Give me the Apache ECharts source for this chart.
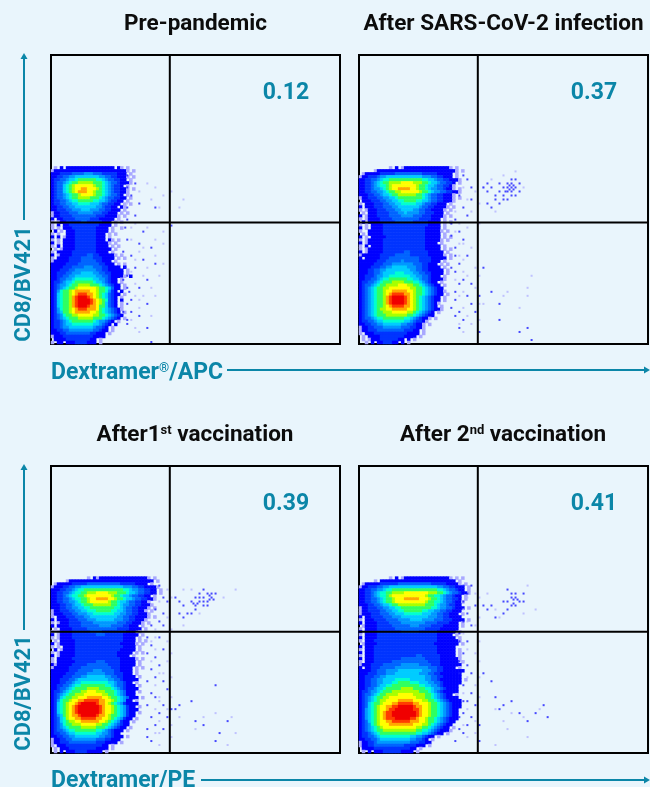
<!DOCTYPE html>
<html><head><meta charset="utf-8">
<style>html,body{margin:0;padding:0;background:#e9f5fc}#c{width:650px;height:787px}</style>
<script src="https://cdn.jsdelivr.net/npm/echarts@6/dist/echarts.min.js"></script>
</head><body><div id="c"></div>
<script>
// Density levels per 3px cell, read by eye: '.' empty, 1 pale fringe, 2 blue ... d red. Rows 37..95, top to bottom.
const densityPrePandemic = [
".1.2.2222222222222222.21.1",
"12222222222222222222222221.1",
"2223333444455544433333222.1",
"22334455666666665544332221.1",
"2334456678888887765443322.1",
"234456788999998887654432221",
"23446789aaaaaa9887654332.1",
"23446789aabbaaa98765433221.1",
"23446789abbbaa988765433221",
"23445678 9aaaa9887654432.1",
"2344567889999888765443322.1",
"233445677888887766543322.1",
"23344556677776665443322.1.1",
"2233445566666665543322.21",
"22333445556665554433222.1",
"1223334445555544433222.1.1",
"12233334444444433322221.1",
"2.2233334444433322222.1",
"1.122333334433333222.1.1",
"1.2.2233333333332222.1",
"1.1.222333333332222.1..1",
".2.1.22233333332222.1",
"1.1..2223333333222.1.1",
"2.2.12223333333222.1",
"1.1.22223333333222.21.1",
"2.1.2222333333322221.1",
"1.2.222233333332222.1.1",
".1.12222333333322222.1",
"1.22222333333332222.1",
"2.12222333334433222221.1",
"1.2222333344443332222.1.1",
"12222233334444433222.1",
"222223333444444433222.1.1",
"22223334444555444332222.2",
"222333445555555443322222.1",
"223334455566665544332222.1",
"2233445566666665544322221.2",
"2234455677777766554322.1",
"2334566788888876654322.1",
"23455678899998887654322.1",
"2345678 9aaaaaa98876422.1",
"2357889abbbbbaa9887532.2",
"23678 9abcccbba98764322.1",
"2367889bcdddcba9876432.1",
"2367889bcddddcba987432.2",
"2367889bcddddcba986432.1",
"2367889bcdddcbba886432.1",
"23578 9abcccbbba87654321",
"2356889abbbbbaa98765432.1",
"234578899aaaaa9988765432.",
"23456788899999888765432.1",
"233456788888887655432.1",
"23345667777777665432.2",
"2334556666666654432.1",
"2233445555555544322.1",
"222334444444433222.1",
"122233333333332222",
".22223333333322.1",
"1.22.2223333222.1"].map(s=>s.replace(/ /g,'8'));
const densityAfterInfection = [
"..........1.2.12222222222222221.1",
".....1222222222222222222222222221.1",
".122222333334444444443333322222.1",
"1223334556666666666665554433222.1",
"2233445677888888888887766544332221",
"22334567889999aaaa99988766544332.1",
"22334567789aaaaaaaa9887665443321",
"22334556789aabbbbaa9887655443221.1",
"22334455678899aaaaaa98876554433221",
"22233445667889999998876544332221",
"12233344556678888888876544332221.1",
".2223334455667788887766544332221",
"1.222333445566777776654433222.1",
"2.2223334445566666665443322221.1",
"1.122233344455666655443322221.1",
".1.2223333444556555544333222.1",
"2.122233334444555544433322221.1",
"1.1222233334444444443333222.1",
".2.222233333444444333332222.1.1",
"1.1.22223333333333333332222.1",
"2.1.22223333333333333322222.1",
"1..2222233333333333333222221.1",
".1.222223333333333333322222.1",
"2.1.22222333333333333322222.1.1",
"1.12222233333333333333222221.1",
"2.122222333333333333332222.1",
"1.2.22223333333333333322222.1",
"1.1222223333333333333322222.1.1",
"2.12222233333334433333322222.1",
"12222223333344444333333222221.1",
"2.222223334444444444333322222.1",
"222222333444445444443333222.1",
"22222333444555555544433222.1.1",
"222233344556666655544332222.1",
"2223344556666666655443322222.1",
"2223344566667776665544332222.1",
"223334556677777776655443222.1",
"22334456778888887766544322221",
"23344567888999988877654322.1",
"2344567889999aaa99887654322.1",
"2345678899aaaaaaa99887654322",
"234567889aabbbbbaa98876543221",
"234567889abccccbba9887654322.1",
"234567889bcddddcba987654322.1",
"234567889bcddddcba987654322.1",
"234567889bcddddcba987654321",
"234567889abccccbba98765432.1",
"234567899aabbbbbaa9876543221",
"23456788999aaaaa998765432.1",
"2345678889999999887654322",
"234456778888888776543221.1",
"23344566777777766543321",
"2233445566666655443221.1",
"1223344455555544433221",
"12233344444444433322.1",
"1.222333333333332222.1",
".1.2222333333332222.1",
".1.122233333322.2.1",
"..1.2.2233322.2.1"];
const densityAfterFirstDose = [
"............1.2122222222222222221.1",
".....12222222222222222222222222222.1",
".1222223333344444444444333332222.1",
"122233445566666666666666555443322221",
"22233445677888888888888877655443322.1",
"223344567788999aaaa9998887665443322.1",
"223345677889aaaaaaaa9887665443322.1",
"2233445677889aabbbbaa98876654433221",
"2233445567889aaaaaa98876654433221",
"2223344566788899999988765544332221",
"222334455667788888888776544332221.1",
"12233344556677788888776654433221.1",
"122233344555667777777665544332221",
"1.2223334445566666666655443322221.1",
"2.222233344455566666655544332221",
"1.12223333444455555555444332221.1",
"2.222233334444445555444433222.1",
".1.222233333444444444433332222.1",
"1.12222333333444433333333222.1",
"2.122223333333344433333322222.1",
"1.12222333333333333333332222.1",
".1.2222233333333333333332222.1.1",
"2.122222333333333333333222221.1",
"1.1.222233333333333333332222.1",
".2.1222233333333333333322222.1",
"1.1222223333333333333322222.1.1",
"2.122222333333333333332222.1",
"1.222223333333333333333222221.1",
"1.22222233333334443333322222.1",
"2122222333334444444333322222.1",
"122222333344444444443332222.1.1",
"222222333444445554444332222.1",
"222223334444555555444333222.1",
"2222333444556666665544332222.1",
"22233344566666666665544322222",
"222334456677777777766544322.1",
"2233445677888888887765443222.1",
"22344567888899998888765432222",
"233456788899aaa9998887654222.1",
"23456788999aaaaaa99887654222",
"234678899aaabbbbbaa988765 4222.1".replace(" ",""),
"2357889aabbcccccbbaa987652 2.1".replace(" ",""),
"236789aabcdddddcbba98765322 22".replace(" ",""),
"236789abcdddddddcbaa98765322.1",
"236789abcdddddddcbaa987653222",
"236789abcdddddddcbaa98765322.1",
"235689abbcdddddcbba988765322",
"234679aabbcccccbbaa98765322.1",
"23467899aabbbbbbaa98765322.1",
"2345788999aaaaa99887654322",
"2345678888999998887654322.1",
"234456778888888776543222.1",
"23344566777777766554322",
"223344556666666655443222.1",
"12233445555555544433222",
"1223334444444443332222.1",
"1.22233333333333322.1",
".1.2223333333332222.1",
".1.2.222333322222.1"];
const densityAfterSecondDose = [
"..........1.2.12222222222222221.1.1",
".....1.2222222222222222222222222.1",
".122222333333444444444443333322221.1",
"12233344556666666666666666554433222.1",
"22334455677888888888888888776544322.1",
"223345677889999aaaaaaaa99988765443221",
"22334567789aaaaaaaaaaa988776544322.1",
"223344567889aaabbbbbaaa98876544332.1",
"223344567889aaaaaaaaaa9887765443221",
"2223344566788999999999888765543322",
"12233344556677888888888877655443222.1",
"1223333445566778888887766554433222",
"122233344455666777777666554433222.1",
"2.22333344455566666666655544332222",
"1.222333344445555666655554443332222.1",
"2.2222333344445555555544443333222.1",
".12222333334444445554444333322222.1",
"1.2222333333444444444433333222222",
"2.222233333333444444333333222222.1",
"1.22223333333333333333333322222.1",
"2.222233333333333333333333222222.1",
"1.22233333333333333333333322222221",
".12222333333333333333333322222222.1",
"2.222333333333333333333333222222",
"1.222333333333333333333333222222.1",
"2.222333333333333333333333222222.1",
"1.222333333333333334433333322222.1",
"2.22233333333344444444333332222221",
"1.2223333334444444444443333222222.1",
"1222333344444455555544443332222222",
"2.223334444455555555555444332222.1",
"22223344455556666666655544332222222",
"2223334445556666666655544332222222",
"2233344556666666666666554433222222",
"2233445566667777766666554432222222.1",
"2233445566677888877766655443222222",
"223344566778888888887766554322222",
"223445667888889999888877655432222",
"233455678889999999998887654322222",
"2344567889999aaaaa9999887654322.1",
"2345678899aaaaaaaaa99988765432222",
"234567899aaaabbbbbaaa9988765432222",
"23467889aaabbcccccbbaaa98876543222",
"2346789aabbccdddddcbbaa98876543222",
"2356789aabccddddddccbaa9887654322",
"2356789abccddddddddcbaa9887654322",
"2356789abccddddddddcbaa9887654322",
"2356789abcccdddddccbaa98876543222",
"2346789aabbccccccbbbaa9887654322",
"2345789aaabbbbbbbbaaa9987654322",
"23456789aaaaaaaaaaa99887654322.1",
"2345678899999999999887765432221",
"2334567888888888888776654322.1",
"2334456777777777766554322.1",
"22334456666666666554432.1",
"122334555555555554443322",
"1223344444444443333222.1",
".222233333333333322.1",
".1.2.2223333332222.1"];

// Isolated events as [x, y] on a 0–72 plot scale.
const strayPrePandemic = [[19,30],[21,32],[19,33],[20,35],[22,37],[19,38],[26,38],[21,40],[19,41],[23,44],[19,46],[22,47],[25,48],[20,50],[23,51],[21,53],[26,52],[19,55],[24,56],[19,58],[22,58],[20,61],[24,62],[20,64],[22,65],[19,67],[24,68],[25,71.5],[30,42.5],[18.5,43],[18,49],[18.5,53],[18,56],[19.5,59],[19,62],[18,64],[19,66]];
const palePrePandemic = [[24,32],[26,33],[28,35],[25,36],[30,34],[21,42],[24,43],[28,44],[26,46],[23,48],[28,47],[22,49],[26,50],[28,52],[24,53],[23,55],[27,55],[25,58],[21,60],[23,60],[26,60],[22,63],[25,65],[21,68],[22,69],[33,36],[32,38],[27,38],[20,31],[22,34],[19,37],[20,43],[20,46],[21,51],[20,54],[21,57],[22,61],[20,66]];
const strayAfterInfection = [[26,30],[27,31],[28,33],[25,35],[28,36],[26,38],[27,40],[24,41],[25,44],[26,46],[24,48],[27,50],[25,52],[24,54],[26,56],[28,57],[27,60],[24,61],[28,62],[25,64],[26,66],[29,64],[30,69],[31,53],[32,37],[34,35],[35,34],[36,33],[37,32],[38,33],[39,33],[37,34],[38,35],[40,32],[39,31],[38,32],[37,33],[36,35],[34,36],[32,34],[33,33],[35,32],[38,34],[36,36],[39,35],[33,38],[35,37],[38,31],[40,34],[37,36],[31,33],[32,32],[33,59],[35,62],[30,60],[35,66],[42,68],[43,71],[40,69],[38.5,32.5],[37.5,32.5],[38.5,33.5],[37.5,33.5],[36.5,34],[23,42],[23,45],[24,50],[23,53],[25,57],[24,59],[23,63],[24,65],[25,68]];
const paleAfterInfection = [[29,34],[30,37],[28,39],[25,42],[27,43],[30,42],[26,47],[28,48],[26,51],[29,53],[30,55],[27,55],[29,58],[26,59],[30,62],[25,67],[28,67],[30,66],[26,69],[31,33],[33,31],[36,30],[39,29],[41,33],[34,39],[31,62],[36,60],[42,58],[42,60],[40,63],[37,59],[43,55],[26,33],[27,36],[24,39],[24,44],[25,47],[25,50],[26,54],[24,56],[25,60],[26,63],[27,65]];
const strayAfterFirstDose = [[27,30],[26,32],[28,33],[29,34],[26,36],[28,37],[27,39],[25,40],[28,40],[27,43],[25,45],[28,46],[26,48],[27,50],[26,53],[28,54],[29,56],[26,58],[28,60],[30,61],[27,62],[29,63],[26,65],[28,66],[25,69],[31,33],[32,34],[33,35],[35,34],[36,33],[37,34],[38,33],[39,32],[40,33],[39,34],[38,35],[36,36],[34,37],[33,38],[37,32],[38,31],[40,32],[39,35],[36,35],[35,37],[32,37],[41,32],[38,34],[37,33],[32,60],[31,61],[35,59],[36,64],[38,65],[41,55],[42,67],[41,69],[44,64],[39.5,33.5],[40.5,33.5],[39.5,32.5],[36.5,34.5],[35.5,34.5],[24,43],[24,47],[25,51],[24,54],[25,57],[24,60],[25,63],[24,66],[24,68]];
const paleAfterFirstDose = [[29,31],[30,33],[29,38],[30,41],[26,43],[29,44],[30,47],[29,49],[28,52],[30,53],[30,58],[27,59],[29,61],[30,65],[27,67],[30,68],[27,70],[33,31],[35,31],[43,33],[46,31],[33,40],[37,37],[36,66],[38,63],[41,62],[45,63],[46,67],[44,70],[32,63],[27,34],[26,38],[26,41],[25,44],[26,46],[25,49],[27,52],[26,55],[27,58],[26,61],[27,64],[26,67]];
const strayAfterSecondDose = [[26,30],[28,30],[27,32],[26,34],[29,35],[27,37],[26,39],[28,40],[25,42],[27,44],[26,47],[25,49],[27,50],[28,52],[26,55],[28,57],[27,59],[29,60],[26,62],[28,63],[27,65],[30,65],[26,67],[30,69],[31,35],[32,36],[33,35],[36,34],[37,34],[38,33],[39,33],[40,34],[38,35],[39,35],[37,36],[36,37],[34,38],[39,32],[41,34],[38,32],[37,31],[41,32],[31,52],[33,54],[34,58],[35,61],[36,60],[38,59],[40,62],[42,64],[44,62],[46,60],[47,63],[38.5,33.5],[39.5,33.5],[38.5,34.5],[25,44],[25,52],[26,59],[25,63],[25,66],[24,69]];
const paleAfterSecondDose = [[29,32],[30,33],[30,38],[29,40],[30,44],[29,47],[30,49],[30,53],[29,55],[30,58],[29,64],[29,67],[32,32],[34,36],[35,38],[41,37],[42,30],[44,36],[34,61],[38,62],[37,66],[41,63],[36,64],[45,61],[42,68],[34,70],[27,33],[26,36],[27,39],[26,42],[27,46],[26,49],[27,53],[26,57],[27,61],[26,65],[27,68]];

const panelNames = ["Pre-pandemic","After SARS-CoV-2 infection","After1{s|st} vaccination","After 2{s|nd} vaccination"];
const percentages = ["0.12","0.37","0.39","0.41"];
const axisLabels = ["CD8/BV421","Dextramer{s|®}/APC","Dextramer/PE"];
const dividerX = [29.6,29.6,29.6,29.6];
const dividerY = [41.75,41.75,41.6,41.6];

const densities=[densityPrePandemic,densityAfterInfection,densityAfterFirstDose,densityAfterSecondDose];
const strays=[strayPrePandemic,strayAfterInfection,strayAfterFirstDose,strayAfterSecondDose];
const pales=[palePrePandemic,paleAfterInfection,paleAfterFirstDose,paleAfterSecondDose];
const firstRow=37, gridCells=96, scale=72;
const levels=".123456789abcd";
const levelColors=['#a8a8ff','#0000ff','#0034ff','#0064ff','#0098ff','#00ccff','#00ffd0','#30ff60','#a8ff00','#ffff00','#ffa800','#ff3c00','#f00000'];
const teal='#0b86a8';
const boxes=[[51,55,289,289],[359,55,289,289],[51,466,289,287],[359,466,289,287]];
const cats=Array.from({length:gridCells},(_,i)=>String(i));
const grid=[],xAxis=[],yAxis=[],series=[],title=[];
const font='Roboto';
const sup=c=>({s:{fontFamily:font,fontWeight:'bold',fontSize:13,color:c,verticalAlign:'top',lineHeight:16}});
boxes.forEach((b,p)=>{
  grid.push({left:b[0],top:b[1],width:b[2],height:b[3],show:true,borderColor:'#000',borderWidth:2,backgroundColor:'transparent'});
  xAxis.push({type:'category',data:cats,gridIndex:p,show:false});
  yAxis.push({type:'category',data:cats,gridIndex:p,show:false,inverse:true});
  xAxis.push({type:'value',min:0,max:scale,gridIndex:p,show:false});
  yAxis.push({type:'value',min:0,max:scale,gridIndex:p,show:false,inverse:true});
  const cells=[];
  densities[p].forEach((row,r)=>{[...row].forEach((ch,c)=>{const v=levels.indexOf(ch);if(v>0)cells.push([c,r+firstRow,v]);});});
  series.push({type:'heatmap',xAxisIndex:2*p,yAxisIndex:2*p,data:cells,itemStyle:{borderWidth:0},progressive:0,z:1});
});
boxes.forEach((b,p)=>{
  series.push({type:'scatter',xAxisIndex:2*p+1,yAxisIndex:2*p+1,data:pales[p],symbol:'rect',symbolSize:2,itemStyle:{color:'#b4b4ff'},z:2});
  series.push({type:'scatter',xAxisIndex:2*p+1,yAxisIndex:2*p+1,data:strays[p],symbol:'rect',symbolSize:2,itemStyle:{color:'#1c1cff'},z:2});
  const line=d=>({type:'line',xAxisIndex:2*p+1,yAxisIndex:2*p+1,data:d,symbol:'none',lineStyle:{color:'#000',width:2},z:5});
  series.push(line([[dividerX[p],0],[dividerX[p],scale]]));
  series.push(line([[0,dividerY[p]],[scale,dividerY[p]]]));
  title.push({text:panelNames[p],left:[190.5,498.5,190,498][p],top:b[1]-47,textAlign:'center',
    textStyle:{fontFamily:font,fontWeight:'bold',fontSize:22.5,color:'#0c0c0c',rich:sup('#0c0c0c')}});
  title.push({text:percentages[p],left:b[0]+230,top:b[1]+22,textAlign:'center',textStyle:{fontFamily:font,fontWeight:'bold',fontSize:23,color:teal}});
});
const arrowH=(x0,x1,y)=>[{type:'line',shape:{x1:x0,y1:y,x2:x1-4,y2:y},style:{stroke:teal,lineWidth:2}},{type:'polygon',shape:{points:[[x1,y],[x1-6,y-3.5],[x1-6,y+3.5]]},style:{fill:teal}}];
const arrowV=(x,y0,y1)=>[{type:'line',shape:{x1:x,y1:y0,x2:x,y2:y1+4},style:{stroke:teal,lineWidth:2}},{type:'polygon',shape:{points:[[x,y1],[x-3.5,y1+6],[x+3.5,y1+6]]},style:{fill:teal}}];
const vText=(t,y)=>({type:'text',x:24,y:y,rotation:Math.PI/2,style:{text:t,align:'center',verticalAlign:'middle',fontFamily:font,fontWeight:'bold',fontSize:22,fill:teal}});
const graphic=[...arrowV(24,220,53),...arrowV(24,630,464),vText(axisLabels[0],284),vText(axisLabels[0],693),...arrowH(227,650,370),...arrowH(201,650,780)];
title.push({text:axisLabels[1],left:46,top:357,textStyle:{fontFamily:font,fontWeight:'bold',fontSize:23,color:teal,rich:sup(teal)}});
title.push({text:axisLabels[2],left:46,top:765,textStyle:{fontFamily:font,fontWeight:'bold',fontSize:23,color:teal}});
const chart=echarts.init(document.getElementById('c'),null,{renderer:'canvas'});
chart.setOption({animation:false,backgroundColor:'#e9f5fc',title,grid,xAxis,yAxis,series,graphic,
 visualMap:{show:false,type:'continuous',min:1,max:13,seriesIndex:[0,1,2,3],inRange:{color:levelColors}},
 tooltip:{show:false}});
</script></body></html>
